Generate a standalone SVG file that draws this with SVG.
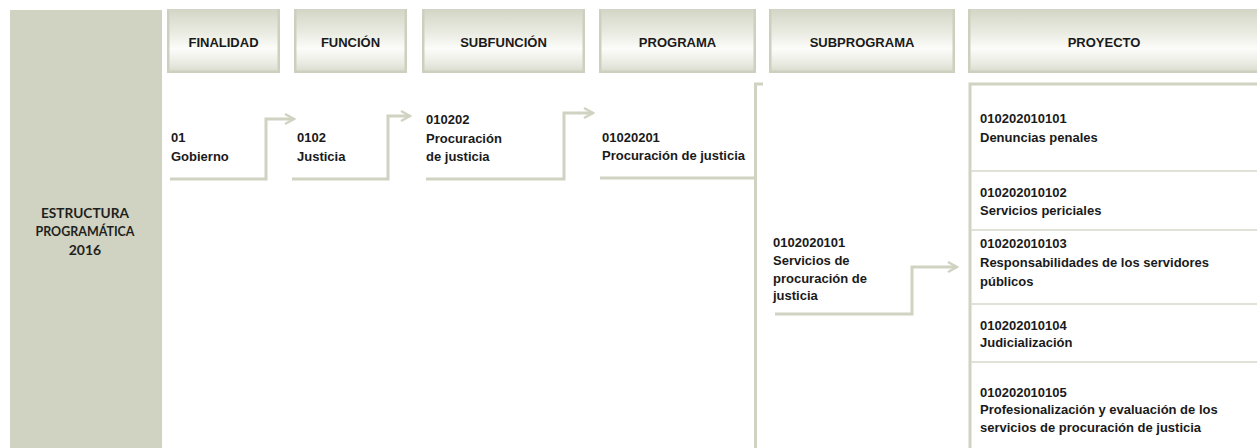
<svg xmlns="http://www.w3.org/2000/svg" width="1257" height="448" viewBox="0 0 1257 448">
<defs>
<linearGradient id="hg" x1="0" y1="0" x2="0" y2="1">
<stop offset="0" stop-color="#D3D6C6"/>
<stop offset="0.35" stop-color="#E8EAE0"/>
<stop offset="0.62" stop-color="#FCFCFA"/>
<stop offset="0.85" stop-color="#E9EBE2"/>
<stop offset="1" stop-color="#D6D9CA"/>
</linearGradient>
<marker id="ah" viewBox="0 0 12 12" refX="10" refY="6" markerWidth="12" markerHeight="12" markerUnits="userSpaceOnUse" orient="auto">
<path d="M1,1 L10,6 L1,11" fill="none" stroke="#D0D3C1" stroke-width="2.4"/>
</marker>
</defs>
<style>
.hdr rect.bg{fill:url(#hg);}
.edge{fill:#CDD0BE;}
.ht{font-family:"Liberation Sans",Arial,sans-serif;font-weight:bold;font-size:13px;fill:#1a1a1a;text-anchor:middle;}
.bt{font-family:"Liberation Sans",Arial,sans-serif;font-weight:bold;font-size:13px;fill:#1a1a1a;}
.lt{font-family:Lato,"Liberation Sans",sans-serif;font-weight:bold;font-size:14px;fill:#1f1f1f;text-anchor:middle;}
.cn{fill:none;stroke:#D0D3C1;stroke-width:3;}
.sep{stroke:#D6D8CA;stroke-width:1.6;}
</style>
<rect width="1257" height="448" fill="#FFFFFF"/>

<g id="panel">
<rect x="10" y="10" width="152" height="438" fill="#D0D3C1"/>
<text class="lt" x="85" y="218" textLength="88" lengthAdjust="spacingAndGlyphs">ESTRUCTURA</text>
<text class="lt" x="85" y="236" textLength="99" lengthAdjust="spacingAndGlyphs">PROGRAMÁTICA</text>
<text class="lt" x="85" y="255">2016</text>
</g>

<g id="hdr-finalidad" class="hdr">
<rect class="bg" x="167" y="9" width="113" height="64"/>
<rect class="edge" x="167" y="9" width="2.5" height="64"/><rect class="edge" x="277.5" y="9" width="2.5" height="64"/><rect class="edge" x="167" y="70.5" width="113" height="2.5"/>
<text class="ht" x="223.5" y="46.5">FINALIDAD</text>
</g>
<g id="hdr-funcion" class="hdr">
<rect class="bg" x="294" y="9" width="113" height="64"/>
<rect class="edge" x="294" y="9" width="2.5" height="64"/><rect class="edge" x="404.5" y="9" width="2.5" height="64"/><rect class="edge" x="294" y="70.5" width="113" height="2.5"/>
<text class="ht" x="350.5" y="46.5">FUNCIÓN</text>
</g>
<g id="hdr-subfuncion" class="hdr">
<rect class="bg" x="422" y="9" width="163" height="64"/>
<rect class="edge" x="422" y="9" width="2.5" height="64"/><rect class="edge" x="582.5" y="9" width="2.5" height="64"/><rect class="edge" x="422" y="70.5" width="163" height="2.5"/>
<text class="ht" x="503.5" y="46.5">SUBFUNCIÓN</text>
</g>
<g id="hdr-programa" class="hdr">
<rect class="bg" x="599" y="9" width="157" height="64"/>
<rect class="edge" x="599" y="9" width="2.5" height="64"/><rect class="edge" x="753.5" y="9" width="2.5" height="64"/><rect class="edge" x="599" y="70.5" width="157" height="2.5"/>
<text class="ht" x="677.5" y="46.5">PROGRAMA</text>
</g>
<g id="hdr-subprograma" class="hdr">
<rect class="bg" x="769" y="9" width="186" height="64"/>
<rect class="edge" x="769" y="9" width="2.5" height="64"/><rect class="edge" x="952.5" y="9" width="2.5" height="64"/><rect class="edge" x="769" y="70.5" width="186" height="2.5"/>
<text class="ht" x="862" y="46.5">SUBPROGRAMA</text>
</g>
<g id="hdr-proyecto" class="hdr">
<rect class="bg" x="968" y="9" width="289" height="64"/>
<rect class="edge" x="968" y="9" width="2.5" height="64"/><rect class="edge" x="968" y="70.5" width="289" height="2.5"/>
<text class="ht" x="1104" y="46.5">PROYECTO</text>
</g>

<g id="connectors">
<path class="cn" d="M170,179 H266 V119 H294" marker-end="url(#ah)"/>
<path class="cn" d="M292,179 H388 V116 H410" marker-end="url(#ah)"/>
<path class="cn" d="M426,179 H564 V113 H593" marker-end="url(#ah)"/>
<path class="cn" d="M600,178 H756"/>
<path class="cn" d="M763,84 H755.5 V448"/>
<path class="cn" d="M775,314 H912 V267 H957" marker-end="url(#ah)"/>
</g>

<g id="n-finalidad">
<text class="bt" x="171" y="142">01</text>
<text class="bt" x="171" y="161">Gobierno</text>
</g>
<g id="n-funcion">
<text class="bt" x="297" y="142">0102</text>
<text class="bt" x="297" y="161">Justicia</text>
</g>
<g id="n-subfuncion">
<text class="bt" x="426" y="124">010202</text>
<text class="bt" x="426" y="142.5">Procuración</text>
<text class="bt" x="426" y="161">de justicia</text>
</g>
<g id="n-programa">
<text class="bt" x="602" y="142">01020201</text>
<text class="bt" x="602" y="160">Procuración de justicia</text>
</g>
<g id="n-subprograma">
<text class="bt" x="773" y="247">0102020101</text>
<text class="bt" x="773" y="265">Servicios de</text>
<text class="bt" x="773" y="283">procuración de</text>
<text class="bt" x="773" y="300">justicia</text>
</g>

<g id="n-proyectos">
<path d="M970,448 V84 H1257" fill="none" stroke="#D0D3C1" stroke-width="3"/>
<line class="sep" x1="970" y1="171" x2="1257" y2="171"/>
<line class="sep" x1="970" y1="230" x2="1257" y2="230"/>
<line class="sep" x1="970" y1="304" x2="1257" y2="304"/>
<line class="sep" x1="970" y1="362" x2="1257" y2="362"/>
</g>
<g id="p1">
<text class="bt" x="980" y="123">010202010101</text>
<text class="bt" x="980" y="141.5">Denuncias penales</text>
</g>
<g id="p2">
<text class="bt" x="980" y="197">010202010102</text>
<text class="bt" x="980" y="215">Servicios periciales</text>
</g>
<g id="p3">
<text class="bt" x="980" y="248">010202010103</text>
<text class="bt" x="980" y="267">Responsabilidades de los servidores</text>
<text class="bt" x="980" y="286">públicos</text>
</g>
<g id="p4">
<text class="bt" x="980" y="330">010202010104</text>
<text class="bt" x="980" y="347">Judicialización</text>
</g>
<g id="p5">
<text class="bt" x="980" y="397">010202010105</text>
<text class="bt" x="980" y="414">Profesionalización y evaluación de los</text>
<text class="bt" x="980" y="432">servicios de procuración de justicia</text>
</g>
</svg>
